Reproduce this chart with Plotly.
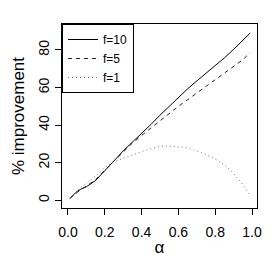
import plotly.graph_objects as go

alpha = [0.01, 0.05, 0.07, 0.10, 0.15, 0.20, 0.25, 0.30, 0.35, 0.40, 0.45, 0.50,
         0.55, 0.60, 0.65, 0.70, 0.75, 0.80, 0.85, 0.90, 0.95, 0.99]
f10 = [1.0, 4.8, 5.9, 7.2, 10.5, 15.5, 21.0, 26.3, 30.8, 35.3, 40.3, 45.3,
       50.0, 54.8, 59.3, 63.5, 67.5, 71.5, 75.8, 80.3, 85.0, 89.0]
f5 = [1.0, 4.5, 5.8, 7.5, 11.0, 16.0, 21.0, 26.0, 30.5, 34.5, 38.5, 42.5,
      46.3, 50.0, 53.5, 57.0, 60.5, 64.0, 67.5, 71.0, 74.8, 78.6]
f1 = [1.0, 5.0, 6.8, 9.0, 12.8, 17.5, 20.5, 22.3, 24.3, 25.9, 27.5, 28.7,
      28.9, 28.5, 27.8, 26.3, 24.4, 22.0, 18.8, 14.3, 8.5, 2.7]

series_names = ["f=10", "f=5", "f=1"]
x_ticks = [0.0, 0.2, 0.4, 0.6, 0.8, 1.0]
y_ticks = [0, 20, 40, 60, 80]

font = dict(family="Liberation Sans, Arial, sans-serif", size=14, color="black")

fig = go.Figure()
fig.add_trace(go.Scatter(x=alpha, y=f10, mode="lines", name=series_names[0],
                         line=dict(color="black", width=1)))
fig.add_trace(go.Scatter(x=alpha, y=f5, mode="lines", name=series_names[1],
                         line=dict(color="#222222", width=1, dash="4px,4px")))
fig.add_trace(go.Scatter(x=alpha, y=f1, mode="lines", name=series_names[2],
                         line=dict(color="#777777", width=1, dash="1px,3px")))

fig.update_layout(
    width=262, height=249,
    margin=dict(l=54, r=13, t=16, b=49),
    paper_bgcolor="white", plot_bgcolor="white",
    font=font,
    showlegend=True,
    legend=dict(x=0, y=1, xanchor="left", yanchor="top",
                bordercolor="black", borderwidth=1, bgcolor="white",
                font=dict(size=12), itemwidth=30, tracegroupgap=0),
    xaxis=dict(range=[-0.0325, 1.027], tickvals=x_ticks,
               ticktext=[f"{v:.1f}" for v in x_ticks],
               showgrid=False, zeroline=False, automargin=False,
               showline=True, mirror=True, linecolor="black", linewidth=1,
               ticks="outside", ticklen=6, tickcolor="black",
               ticklabelstandoff=5,
               title=dict(text="α", standoff=21)),
    yaxis=dict(range=[-4.1, 93.8], tickvals=y_ticks,
               showgrid=False, zeroline=False, automargin=False,
               showline=True, mirror=True, linecolor="black", linewidth=1,
               ticks="outside", ticklen=6, tickcolor="black", tickangle=-90,
               title=dict(text="% improvement", standoff=7)),
)

fig.write_html("out.html")
